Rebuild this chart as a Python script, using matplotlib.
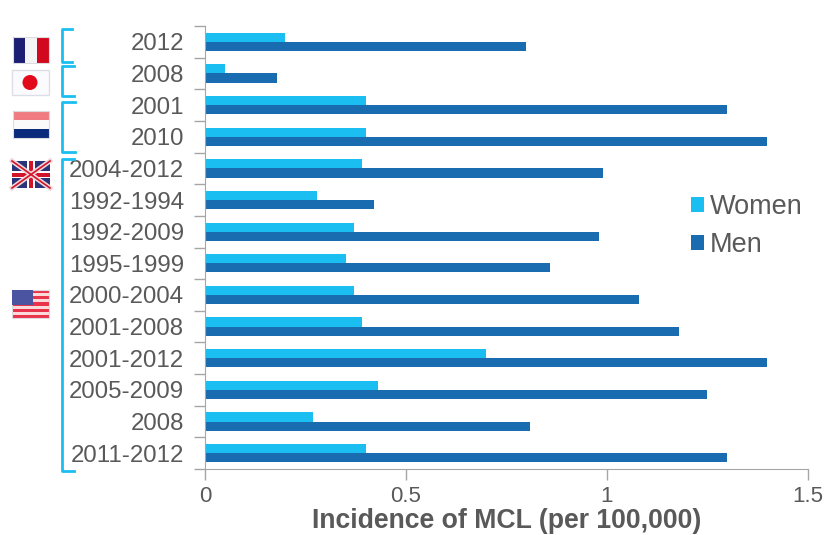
import matplotlib
matplotlib.use("Agg")
import matplotlib.pyplot as plt
from matplotlib.patches import Rectangle, Circle
import numpy as np

labels = ["2012", "2008", "2001", "2010", "2004-2012", "1992-1994", "1992-2009",
          "1995-1999", "2000-2004", "2001-2008", "2001-2012", "2005-2009", "2008", "2011-2012"]
women = [0.20, 0.05, 0.40, 0.40, 0.39, 0.28, 0.37, 0.35, 0.37, 0.39, 0.70, 0.43, 0.27, 0.40]
men = [0.80, 0.18, 1.30, 1.40, 0.99, 0.42, 0.98, 0.86, 1.08, 1.18, 1.40, 1.25, 0.81, 1.30]
xticks = [0, 0.5, 1, 1.5]
xticklabels = ["0", "0.5", "1", "1.5"]

plt.rcParams['font.family'] = ['Liberation Sans', 'DejaVu Sans']
W, H = 825, 535
fig = plt.figure(figsize=(W / 100, H / 100), dpi=100)
ax = fig.add_axes([205 / W, 1 - 469 / H, (807.5 - 205) / W, (469 - 26) / H])

gray = "#595959"
cyan = "#1BBEF0"
blue = "#1A6CB0"
y = np.arange(len(labels))
ax.barh(y - 0.145, women, height=0.29, color=cyan, label="Women")
ax.barh(y + 0.145, men, height=0.29, color=blue, label="Men")
ax.set_xlim(0, 1.5)
ax.set_ylim(len(labels) - 0.5, -0.5)
ax.set_xticks(xticks)
ax.set_xticklabels(xticklabels, fontsize=16, color=gray)
ax.set_yticks(y)
ax.set_yticklabels(labels, fontsize=17.3, color=gray)
ax.set_yticks(np.arange(len(labels) + 1) - 0.5, minor=True)
ax.tick_params(axis="y", which="major", length=0, pad=15)
ax.tick_params(axis="y", which="minor", length=8, width=1, color="#A6A6A6")
ax.tick_params(axis="x", length=8, width=1, color="#A6A6A6", pad=4)
for s in ["top", "right"]:
    ax.spines[s].set_visible(False)
for s in ["left", "bottom"]:
    ax.spines[s].set_color("#A6A6A6")
ax.set_xlabel("Incidence of MCL (per 100,000)", fontsize=19.2, fontweight="bold", color=gray, labelpad=1)
ax.legend(loc="upper left", bbox_to_anchor=(0.807, 0.62), frameon=False, prop={"size": 19.5},
          labelcolor=gray, handlelength=0.48, handleheight=0.48, handletextpad=0.2,
          labelspacing=0.42, borderpad=0, borderaxespad=0)

# overlay in pixel coordinates for brackets and flags
ov = fig.add_axes([0, 0, 1, 1], facecolor="none")
ov.set_xlim(0, W)
ov.set_ylim(H, 0)
ov.axis("off")

brackets = [(29, 62, 72), (66, 96, 74), (102, 152, 75), (159, 471, 74)]
for top, bottom, end in brackets:
    ov.plot([end, 62, 62, end], [top, top, bottom, bottom], color=cyan, lw=2, solid_joinstyle="round")


def stripes(x, y0, w, h, cols, vertical=False):
    n = len(cols)
    for i, c in enumerate(cols):
        if vertical:
            ov.add_patch(Rectangle((x + i * w / n, y0), w / n, h, color=c, lw=0))
        else:
            ov.add_patch(Rectangle((x, y0 + i * h / n), w, h / n, color=c, lw=0))
    ov.add_patch(Rectangle((x, y0), w, h, fc="none", ec="#DCDCE0", lw=0.8))


# France
stripes(13, 37, 36, 26, ["#1C1E75", "#F4F4F6", "#D2091E"], vertical=True)
# Japan
ov.add_patch(Rectangle((12, 70), 37, 25, fc="#FBFBFD", ec="#DDDFE8", lw=1))
ov.add_patch(Circle((30, 82.5), 7.5, color="#E1091A", lw=0))
# Netherlands
stripes(13, 111, 36, 27, ["#F07C80", "#FAFAFA", "#0A2A7C"])
# UK
ov.add_patch(Rectangle((12, 161), 38, 27, color="#2A3478", lw=0))
ov.plot([12, 50], [161, 188], color="#F2D8DC", lw=3.5)
ov.plot([12, 50], [188, 161], color="#F2D8DC", lw=3.5)
ov.plot([12, 50], [161, 188], color="#D2142A", lw=1.2)
ov.plot([12, 50], [188, 161], color="#D2142A", lw=1.2)
ov.add_patch(Rectangle((12, 171), 38, 7, color="white", lw=0))
ov.add_patch(Rectangle((27, 161), 8, 27, color="white", lw=0))
ov.add_patch(Rectangle((12, 172.5), 38, 4, color="#D2142A", lw=0))
ov.add_patch(Rectangle((29, 161), 4, 27, color="#D2142A", lw=0))
# USA
stripes(12, 290, 37, 28, ["#E8334A" if i % 2 == 0 else "#FBD8DA" for i in range(9)])
ov.add_patch(Rectangle((12, 290), 21, 15, color="#4A54A0", lw=0))

fig.savefig("out.png", dpi=100)
